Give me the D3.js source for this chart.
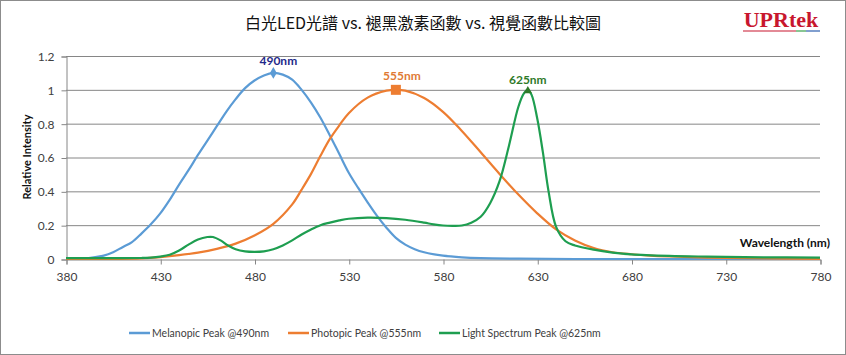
<!DOCTYPE html>
<html><head><meta charset="utf-8">
<script src="https://cdn.jsdelivr.net/npm/d3@7"></script>
<style>html,body{margin:0;padding:0;background:#fff;}svg{display:block;}</style>
</head><body>
<svg id="chart" width="846" height="355"></svg>
<script>
const title = "白光LED光譜 vs. 褪黑激素函數 vs. 視覺函數比較圖";
const xTicks = [380,430,480,530,580,630,680,730,780];
const yTicks = [0,0.2,0.4,0.6,0.8,1,1.2];
const seriesNames = ["Melanopic Peak @490nm","Photopic Peak @555nm","Light Spectrum Peak @625nm"];
const peakLabels = ["490nm","555nm","625nm"];
const peakWl = [490,555,625];
const peakVal = [1.1,1.0,1.0];

const melWl = [380,390,400,405,410,415,420,425,430,435,440,445,450,455,460,465,470,475,480,485,490,495,500,505,510,515,520,525,530,535,540,545,550,555,560,565,570,580,590,600,620,650,700,780];
const melVal = [0,0.003,0.02,0.04,0.07,0.1,0.15,0.205,0.27,0.35,0.44,0.525,0.615,0.70,0.785,0.87,0.945,1.01,1.055,1.085,1.1,1.09,1.06,1.0,0.925,0.835,0.73,0.62,0.51,0.42,0.335,0.255,0.185,0.125,0.085,0.058,0.04,0.02,0.01,0.005,0.002,0,0,0];

const phoWl = [380,400,420,430,440,450,460,470,480,490,500,505,510,515,520,525,530,540,550,555,560,570,580,590,600,610,620,630,640,650,660,670,680,690,700,720,750,780];
const phoVal = [0,0.0004,0.004,0.0116,0.023,0.038,0.06,0.091,0.139,0.208,0.323,0.41,0.503,0.61,0.71,0.79,0.862,0.954,0.995,1.0,0.995,0.952,0.87,0.757,0.631,0.503,0.381,0.27,0.175,0.11,0.065,0.04,0.028,0.02,0.015,0.008,0.003,0.001];

const ledWl = [380,400,420,425,430,435,440,445,450,455,458,462,466,470,475,480,485,490,495,500,505,510,515,520,525,530,540,550,560,570,575,580,585,590,595,600,605,610,615,620,623,625,627,630,633,636,640,645,650,660,670,680,700,720,750,780];
const ledVal = [0.005,0.005,0.006,0.008,0.014,0.025,0.05,0.085,0.115,0.13,0.13,0.11,0.08,0.058,0.045,0.042,0.045,0.058,0.08,0.11,0.145,0.175,0.2,0.215,0.228,0.238,0.245,0.242,0.232,0.215,0.205,0.198,0.196,0.198,0.215,0.25,0.33,0.46,0.67,0.9,0.98,1.0,0.97,0.83,0.63,0.4,0.19,0.105,0.08,0.055,0.038,0.027,0.018,0.014,0.01,0.008];

const colors = ["#5b9bd5","#ed7d31","#1e9e50"];
const labelColors = ["#1f2a8a","#e07a35","#2f7a2a"];

const svg = d3.select("#chart");
const W = 846, H = 355;
svg.append("rect").attr("x",0.5).attr("y",0.5).attr("width",W-1).attr("height",H-1)
  .attr("fill","#fff").attr("stroke","#8c8c8c");

const x = d3.scaleLinear().domain([380,780]).range([66,820]);
const y = d3.scaleLinear().domain([0,1.2]).range([259,56]);
const font = "Lato, 'Noto Sans', sans-serif";

// title
svg.append("text").attr("x",423).attr("y",29).attr("text-anchor","middle")
  .attr("font-family","'Noto Sans CJK TC', sans-serif").attr("font-size",16).attr("fill","#111")
  .text(title);

// logo
const logo = svg.append("g");
logo.append("text").attr("x",781).attr("y",27).attr("text-anchor","middle")
  .attr("font-family","'Liberation Serif', 'DejaVu Serif', serif").attr("font-weight","bold")
  .attr("font-size",22).attr("fill","#c8172e").text("UPRtek");
logo.append("line").attr("x1",743).attr("x2",796).attr("y1",31).attr("y2",31).attr("stroke","#c8172e").attr("stroke-width",1.2);
logo.append("line").attr("x1",796).attr("x2",806).attr("y1",31).attr("y2",31).attr("stroke","#3aa04a").attr("stroke-width",1.2);
logo.append("line").attr("x1",806).attr("x2",820).attr("y1",31).attr("y2",31).attr("stroke","#2d5fb0").attr("stroke-width",1.2);

// gridlines
svg.append("g").selectAll("line").data(yTicks.filter(d=>d>0)).join("line")
  .attr("x1",66).attr("x2",820).attr("y1",d=>y(d)+0.5).attr("y2",d=>y(d)+0.5)
  .attr("stroke","#868686").attr("stroke-width",1);

// y axis
const yAxis = svg.append("g").attr("transform","translate(66.5,0.5)")
  .call(d3.axisLeft(y).tickValues(yTicks).tickSize(5).tickPadding(7).tickFormat(d=>d3.format("")(+d.toFixed(1))));
yAxis.select(".domain").attr("stroke","#868686");
yAxis.selectAll(".tick line").attr("stroke","#868686");
yAxis.selectAll("text").attr("font-family",font).attr("font-size",12).attr("fill","#404040");

// x axis
const xAxis = svg.append("g").attr("transform","translate(0.5,259.5)")
  .call(d3.axisBottom(x).tickValues(xTicks).tickSize(5).tickPadding(8).tickFormat(d3.format("d")));
xAxis.select(".domain").attr("stroke","#868686");
xAxis.selectAll(".tick line").attr("stroke","#868686");
xAxis.selectAll("text").attr("font-family",font).attr("font-size",12).attr("fill","#404040");

// axis titles
svg.append("text").attr("transform","translate(31,157) rotate(-90)").attr("text-anchor","middle")
  .attr("font-family",font).attr("font-weight","bold").attr("font-size",11).attr("fill","#111")
  .text("Relative Intensity");
svg.append("text").attr("x",830).attr("y",247).attr("text-anchor","end")
  .attr("font-family",font).attr("font-weight","bold").attr("font-size",12).attr("fill","#111")
  .text("Wavelength (nm)");

// lines
const line = d3.line().x(d=>x(d[0])).y(d=>y(Math.max(0,d[1]))).curve(d3.curveCatmullRom.alpha(0.5));
const data = [d3.zip(melWl,melVal), d3.zip(phoWl,phoVal), d3.zip(ledWl,ledVal)];
svg.append("g").selectAll("path").data(data).join("path")
  .attr("d",line).attr("fill","none").attr("stroke",(d,i)=>colors[i]).attr("stroke-width",2.2)
  .attr("stroke-linejoin","round");

// markers
const mk = svg.append("g");
mk.append("path").attr("d",d3.symbol(d3.symbolDiamond,40)())
  .attr("transform",`translate(${x(peakWl[0])},${y(peakVal[0])})`).attr("fill",colors[0]);
mk.append("rect").attr("x",x(peakWl[1])-5).attr("y",y(peakVal[1])-5).attr("width",10).attr("height",10).attr("fill",colors[1]);
mk.append("path").attr("d",d3.symbol(d3.symbolTriangle,30)())
  .attr("transform",`translate(${x(peakWl[2])},${y(peakVal[2])+1})`).attr("fill","#2f7a2a");

const offs = [[5,-8],[6,-10],[0,-6]];
svg.append("g").selectAll("text").data(peakLabels).join("text")
  .attr("x",(d,i)=>x(peakWl[i])+offs[i][0]).attr("y",(d,i)=>y(peakVal[i])+offs[i][1])
  .attr("text-anchor","middle").attr("font-family",font).attr("font-weight","bold").attr("font-size",12)
  .attr("fill",(d,i)=>labelColors[i]).text(d=>d);

// legend
const legX = [129,288,439];
const lg = svg.append("g").selectAll("g").data(seriesNames).join("g")
  .attr("transform",(d,i)=>`translate(${legX[i]},333)`);
lg.append("line").attr("x1",0).attr("x2",21).attr("y1",0).attr("y2",0).attr("stroke",(d,i)=>colors[i]).attr("stroke-width",2.5);
lg.append("text").attr("x",23).attr("y",4).attr("font-family",font).attr("font-size",10.5).attr("fill","#404040").text(d=>d);
</script>
</body></html>
